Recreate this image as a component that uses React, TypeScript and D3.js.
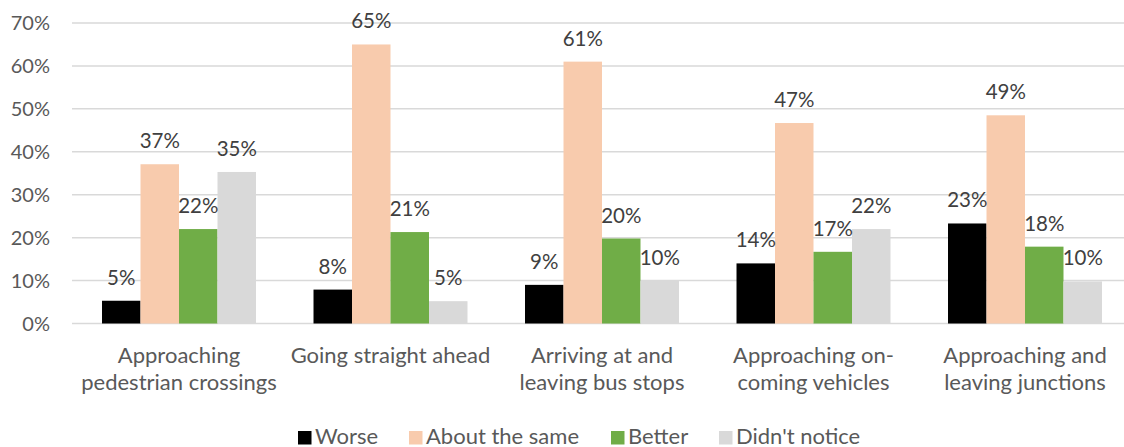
import React from "react";
import * as d3 from "d3";

const categories = [
  ["Approaching", "pedestrian crossings"],
  ["Going straight ahead"],
  ["Arriving at and", "leaving bus stops"],
  ["Approaching on-", "coming vehicles"],
  ["Approaching and", "leaving junctions"],
];
const seriesNames = ["Worse", "About the same", "Better", "Didn't notice"];
const worse = [5.3, 7.9, 9.0, 14.0, 23.3];
const aboutSame = [37.1, 65.0, 61.0, 46.7, 48.5];
const better = [22.0, 21.3, 19.8, 16.7, 17.9];
const didntNotice = [35.3, 5.2, 10.0, 22.0, 9.8];
const yTicks = [0, 10, 20, 30, 40, 50, 60, 70];

const colors = ["#000000", "#F8CBAD", "#70AD47", "#D9D9D9"];
const W = 1124;
const H = 447;
const FONT = "Lato, 'Open Sans', sans-serif";

export default function App() {
  const series = [worse, aboutSame, better, didntNotice];
  const catIdx = categories.map((_, i) => String(i));
  const x0 = d3.scaleBand<string>().domain(catIdx).range([73.25, 1130.75]).paddingInner(0).paddingOuter(0);
  const x1 = d3
    .scaleBand<string>()
    .domain(seriesNames)
    .range([0, x0.bandwidth()])
    .paddingInner(0)
    .paddingOuter(0.747);
  const y = d3.scaleLinear().domain([0, 70]).range([323.5, 23]);
  const legendX = [298, 409, 611, 719];

  return (
    <svg
      width={W}
      height={H}
      style={{ position: "absolute", left: 0, top: 0, background: "#fff" }}
      fontFamily={FONT}
    >
      {yTicks.map((t) => (
        <g key={t}>
          <line x1={72} x2={W} y1={y(t)} y2={y(t)} stroke="#D9D9D9" strokeWidth={1.5} />
          <text x={50} y={y(t)} dy="0.36em" textAnchor="end" fontSize={20} fill="#595959">
            {t}%
          </text>
        </g>
      ))}
      {categories.map((cat, ci) => (
        <g key={ci} transform={`translate(${x0(String(ci))},0)`}>
          {seriesNames.map((s, si) => {
            const v = series[si][ci];
            const bx = x1(s)!;
            return (
              <rect
                key={s}
                x={bx}
                y={y(v)}
                width={x1.bandwidth()}
                height={y(0) - y(v)}
                fill={colors[si]}
              />
            );
          })}
        </g>
      ))}
      {categories.map((cat, ci) => (
        <g key={"l" + ci} transform={`translate(${x0(String(ci))},0)`}>
          {seriesNames.map((s, si) => {
            const v = series[si][ci];
            return (
              <text
                key={s}
                x={x1(s)! + x1.bandwidth() / 2}
                y={y(v) - 16}
                textAnchor="middle"
                fontSize={20.5}
                fill="#404040"
              >
                {Math.round(v)}%
              </text>
            );
          })}
          {cat.map((line, li) => (
            <text
              key={li}
              x={x0.bandwidth() / 2}
              y={363 + li * 27}
              textAnchor="middle"
              fontSize={22}
              fill="#595959"
            >
              {line}
            </text>
          ))}
        </g>
      ))}
      {seriesNames.map((s, si) => (
        <g key={"lg" + s} transform={`translate(${legendX[si]},0)`}>
          <rect x={0} y={431} width={13.5} height={13.5} fill={colors[si]} />
          <text x={17} y={443.5} fontSize={22} fill="#595959">
            {s}
          </text>
        </g>
      ))}
    </svg>
  );
}
